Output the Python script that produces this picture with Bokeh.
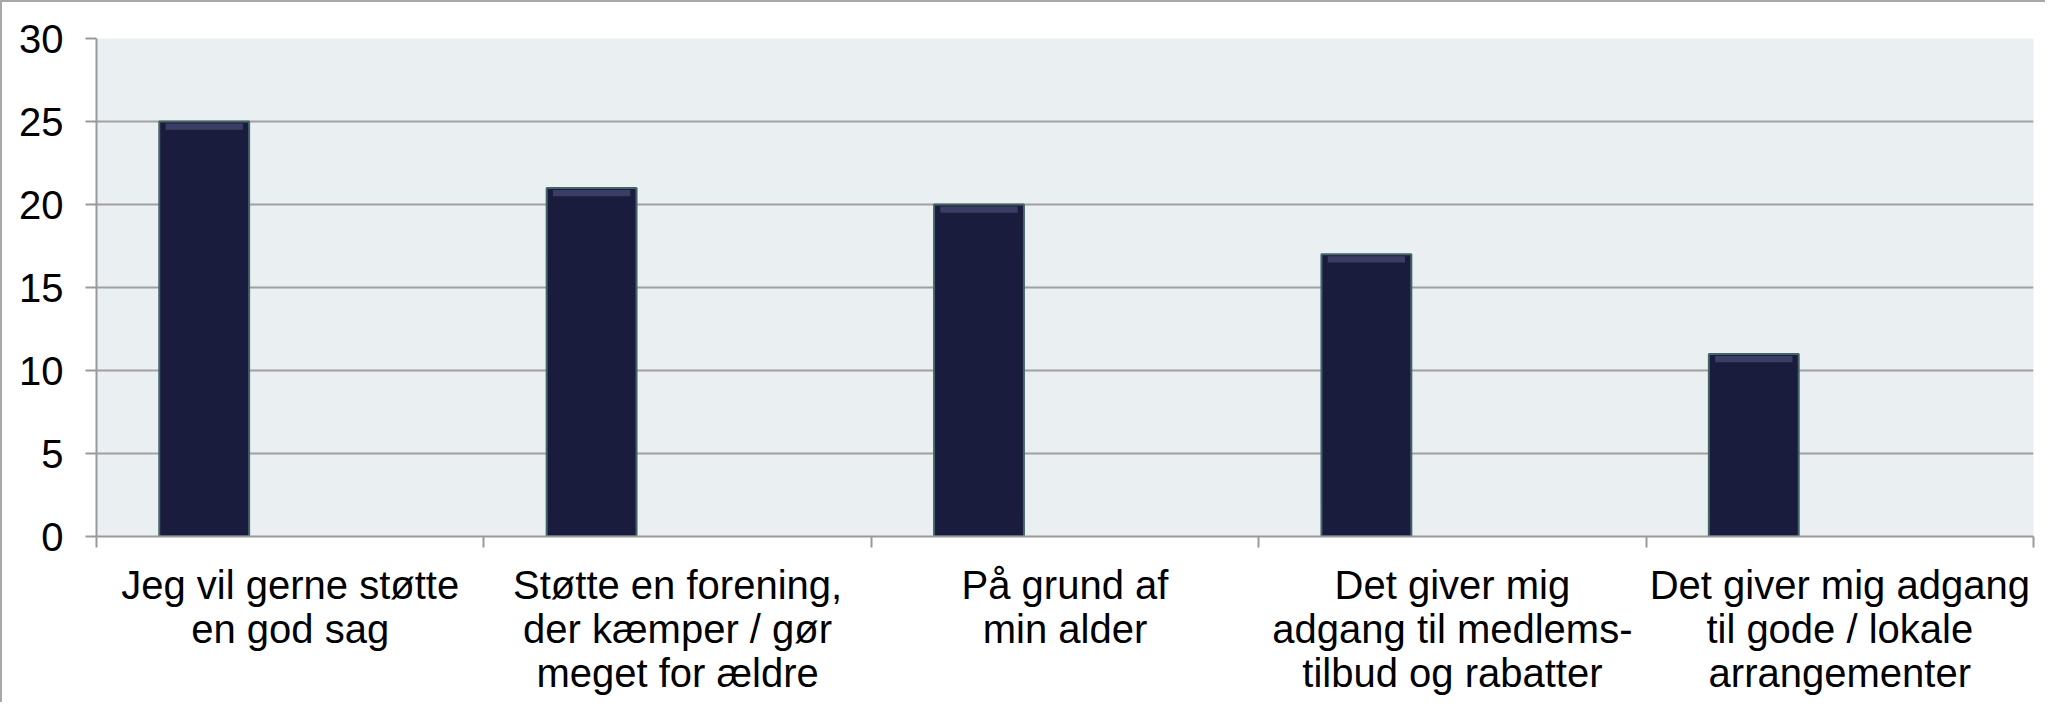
from bokeh.plotting import figure
from bokeh.models import Range1d, FixedTicker, LinearAxis, ColumnDataSource
from bokeh.embed import file_html
from bokeh.resources import INLINE

categories = [
    "Jeg vil gerne støtte\nen god sag",
    "Støtte en forening,\nder kæmper / gør\nmeget for ældre",
    "På grund af\nmin alder",
    "Det giver mig\nadgang til medlems-\ntilbud og rabatter",
    "Det giver mig adgang\ntil gode / lokale\narrangementer",
]
values = [25, 21, 20, 17, 11]
y_ticks = [0, 5, 10, 15, 20, 25, 30]

n = len(categories)
bar_offset = 0.278   # bar centre within its category slot (clustered layout)
bar_width = 0.232

src = ColumnDataSource(dict(
    x=[i + bar_offset for i in range(n)],
    top=values,
    hi_top=[v - 0.12 for v in values],
    hi_bot=[v - 0.5 for v in values],
))

p = figure(
    frame_width=1937, frame_height=498,
    min_border_left=94, min_border_right=12, min_border_top=36, min_border_bottom=166,
    x_range=Range1d(0, n), y_range=Range1d(0, 30),
    x_axis_location=None, y_axis_location=None,
    output_backend="svg", toolbar_location=None,
)
p.styles = {"border-left": "2px solid #a8a8a8", "border-top": "2px solid #a8a8a8"}
p.border_fill_color = "white"
p.background_fill_color = "#eaeff2"
p.outline_line_color = None
p.xgrid.visible = False

# y axis
yax = LinearAxis(ticker=FixedTicker(ticks=y_ticks))
yax.axis_line_color = "#9a9a9a"
yax.axis_line_width = 2
yax.major_tick_line_color = "#9a9a9a"
yax.major_tick_line_width = 2
yax.major_tick_out = 11
yax.major_tick_in = 0
yax.minor_tick_line_color = None
yax.major_label_standoff = 22
yax.major_label_text_font = "Liberation Sans"
yax.major_label_text_font_size = "40px"
yax.major_label_text_color = "black"
p.add_layout(yax, "left")

p.ygrid.ticker = FixedTicker(ticks=y_ticks)
p.ygrid.grid_line_color = "#a0a0a0"
p.ygrid.grid_line_width = 2

# x axis: ticks at category boundaries
xtick_ax = LinearAxis(ticker=FixedTicker(ticks=list(range(n + 1))))
xtick_ax.axis_line_color = "#9a9a9a"
xtick_ax.axis_line_width = 2
xtick_ax.major_tick_line_color = "#9a9a9a"
xtick_ax.major_tick_line_width = 2
xtick_ax.major_tick_out = 11
xtick_ax.major_tick_in = 0
xtick_ax.minor_tick_line_color = None
xtick_ax.major_label_overrides = {i: "" for i in range(n + 1)}
xtick_ax.major_label_text_font_size = "1px"
xtick_ax.major_label_standoff = 0
p.add_layout(xtick_ax, "below")

# x axis: category labels at slot centres
xlab_ax = LinearAxis(ticker=FixedTicker(ticks=[i + 0.5 for i in range(n)]))
xlab_ax.axis_line_color = None
xlab_ax.major_tick_line_color = None
xlab_ax.minor_tick_line_color = None
xlab_ax.major_label_overrides = {i + 0.5: c for i, c in enumerate(categories)}
xlab_ax.major_label_text_font = "Liberation Sans"
xlab_ax.major_label_text_font_size = "40px"
xlab_ax.major_label_text_color = "black"
xlab_ax.major_label_text_line_height = 1.0
xlab_ax.major_label_standoff = 9
p.add_layout(xlab_ax, "below")

p.vbar(x="x", top="top", bottom=0, width=bar_width, source=src,
       fill_color="#1a1c3d", line_color="#44646a", line_width=2)
p.vbar(x="x", top="hi_top", bottom="hi_bot", width=bar_width * 0.86, source=src,
       fill_color="#50557f", fill_alpha=0.6, line_color=None)

open("out.html", "w").write(file_html(p, INLINE))
